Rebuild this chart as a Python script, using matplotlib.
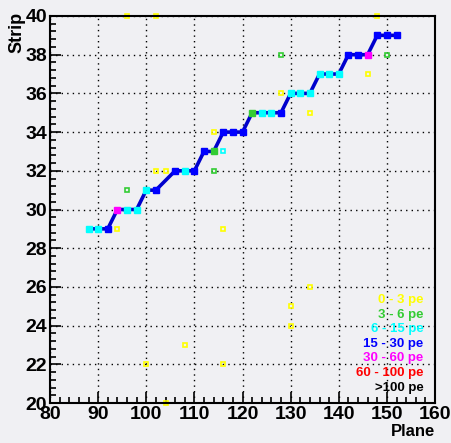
import matplotlib
matplotlib.use('Agg')
import matplotlib.pyplot as plt
from matplotlib.ticker import MultipleLocator

# pe classes for the legend text and marker colours
pe_labels = ['0 - 3 pe', '3 - 6 pe', '6 - 15 pe', '15 - 30 pe', '30 - 60 pe', '60 - 100 pe', '>100 pe']
pe_colors = ['#ffff00', '#33cc33', '#00ffff', '#0000ff', '#ff00ff', '#ff0000', '#000000']

# fitted track (line through the hits)
track_plane = [88, 90, 92, 94, 96, 98, 100, 102, 106, 108, 110, 112, 114, 116, 118, 120,
               122, 124, 126, 128, 130, 132, 134, 136, 138, 140, 142, 144, 146, 148, 150, 152]
track_strip = [29, 29, 29, 30, 30, 30, 31, 31, 32, 32, 32, 33, 33, 34, 34, 34,
               35, 35, 35, 35, 36, 36, 36, 37, 37, 37, 38, 38, 38, 39, 39, 39]
track_class = [2, 2, 3, 4, 2, 2, 2, 3, 3, 2, 3, 3, 1, 3, 3, 3,
               1, 2, 2, 3, 2, 2, 2, 2, 2, 2, 3, 3, 4, 3, 3, 3]

# other hits
hit_plane = [96, 102, 148, 96, 114, 128, 150, 146, 134, 128, 114, 102, 104, 94, 116,
             100, 108, 104, 116, 130, 130, 134, 116]
hit_strip = [40, 40, 40, 31, 32, 38, 38, 37, 35, 36, 34, 32, 32, 29, 29,
             22, 23, 20, 22, 24, 25, 26, 33]
hit_class = [0, 0, 0, 1, 1, 1, 1, 0, 0, 0, 0, 0, 0, 0, 0,
             0, 0, 0, 0, 0, 0, 0, 2]

bg = '#f0f0f3'
plt.rcParams['font.family'] = ['Liberation Sans', 'DejaVu Sans']

fig = plt.figure(figsize=(4.52, 4.43), dpi=100, facecolor=bg)
ax = fig.add_axes([50 / 452, 40 / 443, 385 / 452, 387 / 443], facecolor=bg)

for p, s, c in zip(hit_plane, hit_strip, hit_class):
    ax.plot(p, s, 's', ms=3.5, mfc='none', mec=pe_colors[c], mew=1.2, zorder=2, clip_on=False)

ax.plot(track_plane, track_strip, '-', color='#0000cc', lw=2.6, zorder=3)
for p, s, c in zip(track_plane, track_strip, track_class):
    ax.plot(p, s, 's', ms=4.5, color=pe_colors[c], zorder=4)

ax.set_xlim(80, 160)
ax.set_ylim(20, 40)
ax.xaxis.set_major_locator(MultipleLocator(10))
ax.xaxis.set_minor_locator(MultipleLocator(2))
ax.yaxis.set_major_locator(MultipleLocator(2))
ax.yaxis.set_minor_locator(MultipleLocator(0.4))
ax.tick_params(which='both', direction='in', top=False, right=False, width=1.2)
ax.tick_params(which='major', length=8, labelsize=14, pad=2)
ax.tick_params(which='minor', length=4)
for lab in ax.get_xticklabels() + ax.get_yticklabels():
    lab.set_fontweight('bold')
ax.grid(True, which='major', color='black', linestyle=(0, (1, 3)), lw=1)
for sp in ax.spines.values():
    sp.set_linewidth(1.5)

fig.text(17 / 452, 1 - 12 / 443, 'Strip', rotation=90, ha='center', va='top',
         fontsize=13, fontweight='bold')
fig.text(435 / 452, 1 - 432 / 443, 'Plane', ha='right', va='center',
         fontsize=12, fontweight='bold')

for i, (lab, col) in enumerate(zip(pe_labels, pe_colors)):
    ax.text(0.97, 0.266 - i * 0.0377, lab, color=col, ha='right', va='center',
            fontsize=9.5, fontweight='bold', transform=ax.transAxes, zorder=5)

fig.savefig('out.png', dpi=100, facecolor=bg)
